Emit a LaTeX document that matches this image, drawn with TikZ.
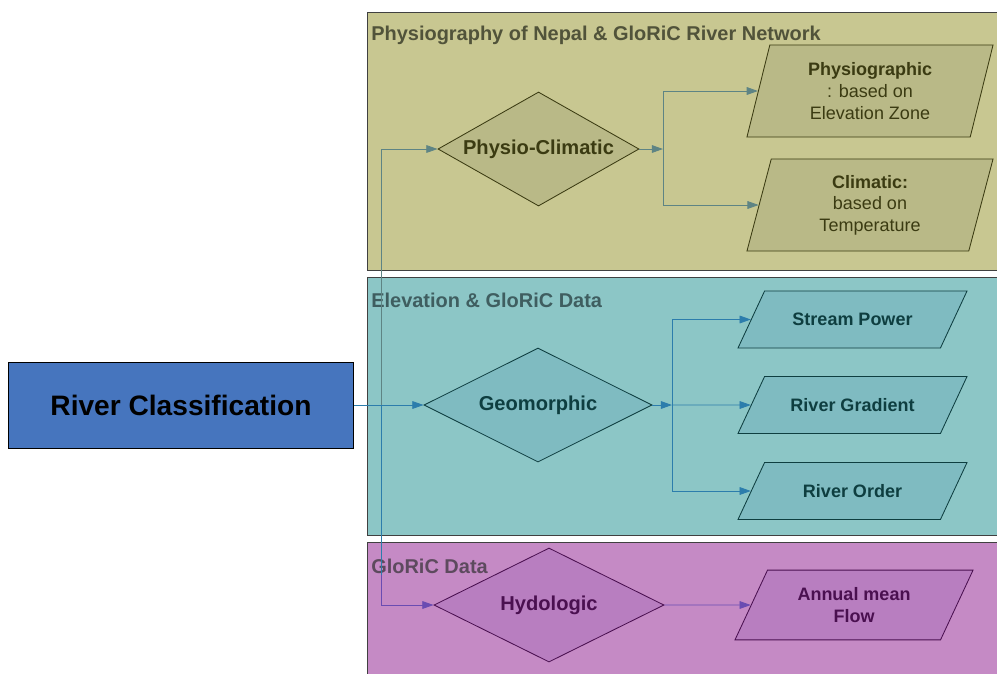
\documentclass[tikz,border=0pt]{standalone}
\usepackage{fontspec}
\setmainfont{Liberation Sans}
\usetikzlibrary{arrows.meta,shapes.geometric}

\definecolor{olivebg}{HTML}{C8C791}
\definecolor{olivebox}{HTML}{B9B987}
\definecolor{olivetxt}{HTML}{3B3B12}
\definecolor{olivelbl}{HTML}{51533A}
\definecolor{olivearr}{HTML}{5E8484}
\definecolor{tealbg}{HTML}{8CC6C6}
\definecolor{tealbox}{HTML}{7FBBC1}
\definecolor{tealtxt}{HTML}{0E3E40}
\definecolor{teallbl}{HTML}{3F5E60}
\definecolor{tealarr}{HTML}{2C7DAC}
\definecolor{purpbg}{HTML}{C58AC5}
\definecolor{purpbox}{HTML}{B87EC0}
\definecolor{purptxt}{HTML}{4A1050}
\definecolor{purplbl}{HTML}{5D4A5E}
\definecolor{purparr}{HTML}{6A4CB2}
\definecolor{rootblue}{HTML}{4675BE}

\begin{document}
\begin{tikzpicture}[x=0.025cm,y=-0.025cm,
    panel/.style={draw=black!75,line width=0.7pt},
    lbl/.style={anchor=west,inner sep=0pt,font=\fontsize{14.2}{16}\selectfont\bfseries},
    choice/.style={shape=diamond,inner sep=0pt,line width=0.6pt,minimum height=2.85cm,
        font=\fontsize{14.3}{16}\selectfont\bfseries},
    datum/.style={shape=trapezium,trapezium left angle=65,trapezium right angle=115,
        trapezium stretches body=true,inner xsep=0pt,line width=0.6pt,align=center,
        font=\fontsize{12.8}{15.4}\selectfont},
    link/.style={line width=0.6pt,-{Triangle[length=8pt,width=5.5pt]}}]
    \useasboundingbox (0,0) rectangle (997,673);
    % panels
    \fill[olivebg] (367,12) rectangle (1000,270);
    \draw[panel] (1000,12) -- (367,12) -- (367,270) -- (1000,270);
    \fill[tealbg] (367,277) rectangle (1000,535);
    \draw[panel] (1000,277) -- (367,277) -- (367,535) -- (1000,535);
    \fill[purpbg] (367,542) rectangle (1000,676);
    \draw[panel] (1000,542) -- (367,542) -- (367,676);
    \node[lbl,text=olivelbl] (t1) at (371,35) {Physiography of Nepal \& GloRiC River Network};
    \node[lbl,text=teallbl] (t2) at (371,300) {Elevation \& GloRiC Data};
    \node[lbl,text=purplbl] (t3) at (371,566) {GloRiC Data};

    % root
    \node[shape=rectangle,draw=black,line width=0.7pt,fill=rootblue,minimum width=8.6cm,
        minimum height=2.15cm,font=\fontsize{20}{24}\selectfont\bfseries] (rc) at (181,405) {River Classification};

    % decisions
    \node[choice,draw=olivetxt,fill=olivebox,text=olivetxt,minimum width=5.025cm,aspect=1.76] (pc) at (538.5,149) {Physio-Climatic};
    \node[choice,draw=tealtxt,fill=tealbox,text=tealtxt,minimum width=5.7cm,aspect=2] (gm) at (538,405) {Geomorphic};
    \node[choice,draw=purptxt,fill=purpbox,text=purptxt,minimum width=5.75cm,aspect=2] (hy) at (549,605) {Hydologic};

    % outputs
    \node[datum,draw=olivetxt,fill=olivebox,text=olivetxt,minimum width=6.15cm,minimum height=2.3cm,
        inner ysep=0pt,trapezium left angle=68,trapezium right angle=112] (phy) at (870,91)
        {\textbf{Physiographic}\\: based on\\Elevation Zone};
    \node[datum,draw=olivetxt,fill=olivebox,text=olivetxt,minimum width=6.15cm,minimum height=2.3cm,
        inner ysep=0pt,trapezium left angle=68,trapezium right angle=112] (cli) at (870,205)
        {\textbf{Climatic:}\\based on\\Temperature};
    \node[datum,draw=tealtxt,fill=tealbox,text=tealtxt,minimum width=5.725cm,
        text height=10.6pt,text depth=1.4pt,inner ysep=14.3pt,
        font=\fontsize{12.8}{15.4}\selectfont\bfseries] (sp) at (852.5,319.5) {Stream Power};
    \node[datum,draw=tealtxt,fill=tealbox,text=tealtxt,minimum width=5.725cm,
        text height=10.6pt,text depth=1.4pt,inner ysep=14.3pt,
        font=\fontsize{12.8}{15.4}\selectfont\bfseries] (rg) at (852.5,405) {River Gradient};
    \node[datum,draw=tealtxt,fill=tealbox,text=tealtxt,minimum width=5.725cm,
        text height=10.6pt,text depth=1.4pt,inner ysep=14.3pt,
        font=\fontsize{12.8}{15.4}\selectfont\bfseries] (ro) at (852.5,491) {River Order};
    \node[datum,draw=purptxt,fill=purpbox,text=purptxt,minimum width=5.95cm,inner ysep=12.4pt,
        font=\fontsize{12.8}{15.4}\selectfont\bfseries] (amf) at (854,605) {Annual mean\\Flow};

    % connectors
    \coordinate (bus) at (381,405);
    \coordinate (pcfork) at (663,149);
    \coordinate (gmfork) at (672,405);
    \draw[link,tealarr] (rc.east) -- (gm.west);
    \draw[link,olivearr] (bus) |- (pc.west);
    \draw[link,purparr] (bus) |- (hy.west);
    \draw[tealarr,line width=0.6pt] (bus) -- (381,575);

    \draw[link,olivearr] (pc.east) -- (pcfork);
    \draw[link,olivearr] (pcfork) |- (phy.west);
    \draw[link,olivearr] (pcfork) |- (cli.west);

    \draw[link,tealarr] (gm.east) -- (gmfork);
    \draw[link,tealarr] (gmfork) |- (sp.west);
    \draw[link,tealarr] (gmfork) -- (rg.west);
    \draw[link,tealarr] (gmfork) |- (ro.west);

    \draw[link,purparr] (hy.east) -- (amf.west);
\end{tikzpicture}
\end{document}
